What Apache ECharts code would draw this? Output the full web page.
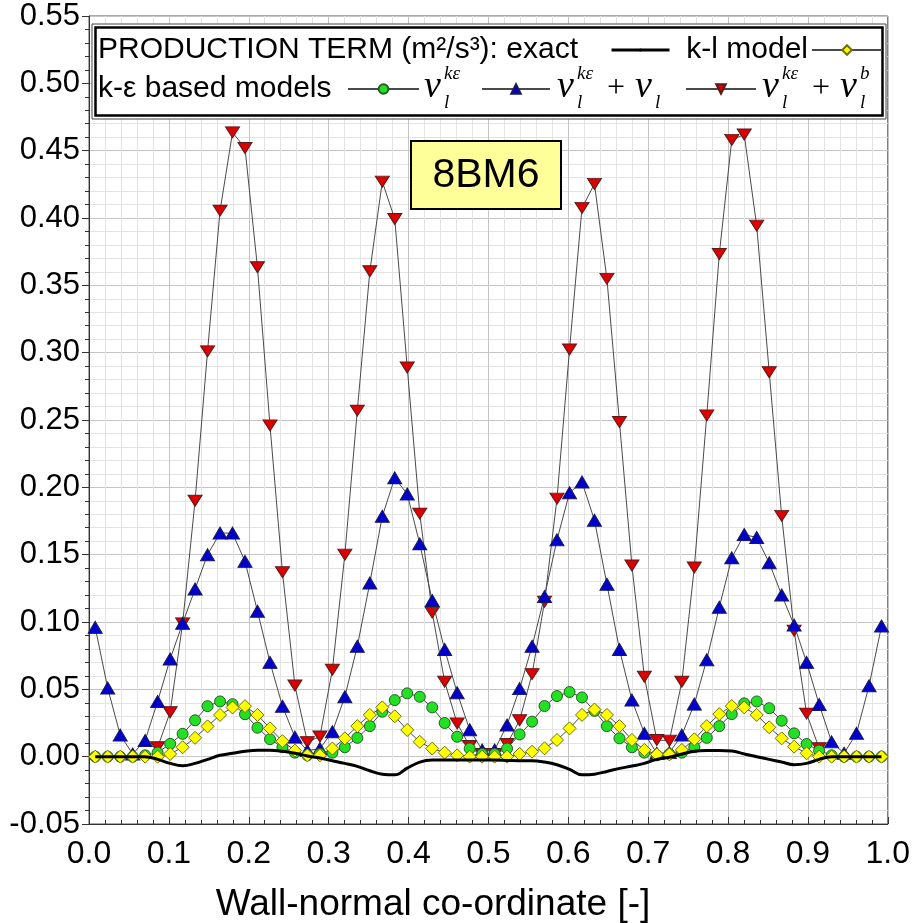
<!DOCTYPE html>
<html><head><meta charset="utf-8">
<script src="https://cdn.jsdelivr.net/npm/echarts@6/dist/echarts.min.js"></script>
<style>html,body{margin:0;padding:0;background:#fff}#c{width:913px;height:923px}</style>
</head><body><div id="c"></div>
<script>
// wall-normal positions of the sample points
const xPos = [0.0078,0.0234,0.0391,0.0547,0.0703,0.0859,0.1016,0.1172,0.1328,0.1484,
0.1641,0.1797,0.1953,0.2109,0.2266,0.2422,0.2578,0.2734,0.2891,0.3047,
0.3203,0.3359,0.3516,0.3672,0.3828,0.3984,0.4141,0.4297,0.4453,0.4609,
0.4766,0.4922,0.5078,0.5234,0.5391,0.5547,0.5703,0.5859,0.6016,0.6172,
0.6328,0.6484,0.6641,0.6797,0.6953,0.7109,0.7266,0.7422,0.7578,0.7734,
0.7891,0.8047,0.8203,0.8359,0.8516,0.8672,0.8828,0.8984,0.9141,0.9297,
0.9453,0.9609,0.9766,0.9922];

const exactVals = [0,0,0,0,0,-0.002,-0.005,-0.0067,-0.005,-0.002,
0.001,0.0025,0.004,0.0048,0.0048,0.004,0.0025,0.0005,-0.001,-0.003,
-0.005,-0.0072,-0.0105,-0.013,-0.0135,-0.0085,-0.004,-0.0025,-0.0025,-0.0025,
-0.0025,-0.0025,-0.0025,-0.0028,-0.003,-0.003,-0.004,-0.006,-0.0095,-0.0135,
-0.013,-0.011,-0.0087,-0.007,-0.005,-0.002,-0.0005,0.002,0.004,0.0045,
0.0045,0.0042,0.002,0,-0.002,-0.004,-0.006,-0.005,-0.002,0,
0,0,0,0];

const klVals = [0,0,0,0,0,0,0.002,0.007,0.014,0.0225,
0.031,0.0365,0.0375,0.031,0.021,0.0115,0.0045,0.001,0.001,0.006,
0.0136,0.0227,0.031,0.0366,0.030,0.0198,0.011,0.006,0.003,0.001,
0,0,0,0,0.002,0.0037,0.0062,0.0124,0.021,0.031,
0.035,0.031,0.0227,0.0124,0.005,0.0017,0.0017,0.005,0.0129,0.0227,
0.0316,0.0376,0.0366,0.031,0.0218,0.0136,0.0074,0.0025,0,0,
0,0,0,0];

const nuKeVals = [0,0,0,0,0.001,0.003,0.0095,0.017,0.027,0.0375,
0.041,0.039,0.0315,0.0215,0.013,0.007,0.003,0.001,0.002,0.003,
0.007,0.014,0.0227,0.0334,0.042,0.047,0.0445,0.0366,0.025,0.0148,
0.006,0.002,0.002,0.006,0.0165,0.026,0.0376,0.045,0.048,0.044,
0.034,0.0227,0.0136,0.007,0.003,0.001,0.002,0.003,0.007,0.014,
0.0227,0.0316,0.0396,0.041,0.036,0.0267,0.0173,0.0094,0.0045,0.001,
0,0,0,0];

const nuKeLVals = [0.096,0.051,0.016,0.002,0.012,0.041,0.0725,0.099,0.1245,0.15,
0.166,0.166,0.145,0.108,0.07,0.0375,0.0145,0.0045,0.006,0.0185,
0.0445,0.082,0.129,0.1785,0.207,0.195,0.158,0.116,0.0796,0.0475,
0.02,0.005,0.005,0.0235,0.0505,0.082,0.119,0.161,0.196,0.204,
0.1756,0.128,0.0796,0.042,0.0173,0.0025,0.003,0.016,0.039,0.072,
0.111,0.1476,0.165,0.1627,0.144,0.12,0.0977,0.07,0.0388,0.011,
0.0025,0.0173,0.0527,0.097];

const nuKeBVals = [null,null,null,null,null,0.007,0.033,0.099,0.19,0.301,
0.4055,0.4636,0.452,0.3634,0.246,0.137,0.0528,0.0108,0.015,0.0645,
0.15,0.257,0.3605,0.427,0.3993,0.289,0.1805,0.107,0.0556,0.0247,
0.0079,0.002,0.002,0.0094,0.027,0.0613,0.115,0.1916,0.3024,0.4075,
0.4253,0.3548,0.2485,0.142,0.0593,0.0124,0.0119,0.0556,0.1405,0.2534,
0.3733,0.458,0.462,0.3943,0.2855,0.1788,0.0935,0.032,0.0062,null,
null,null,null,null];

const xTickLabels = ['0.0','0.1','0.2','0.3','0.4','0.5','0.6','0.7','0.8','0.9','1.0'];

const pairs = v => xPos.map((x, i) => [x, v[i]]);
const SANS = '"Liberation Sans", Arial, sans-serif';
const NARROW = '"Liberation Sans Narrow", "Arial Narrow", "Liberation Sans", sans-serif';
const SERIF = '"Liberation Serif", "DejaVu Serif", serif';
const lineGrey = '#4a4a4a';

const chart = echarts.init(document.getElementById('c'), null, {renderer: 'canvas'});

function legendAt(name, left, top, w, h, extra) {
  return Object.assign({
    data: [name], left: left, top: top, itemWidth: w, itemHeight: h,
    padding: 0, formatter: function () { return ''; }, z: 10,
    textStyle: {fontSize: 1}
  }, extra || {});
}

function txt(t, x, y, size, opts) {
  opts = opts || {};
  return {
    type: 'text', z: 9, silent: true,
    style: {
      text: t, x: x, y: y, fill: '#000',
      fontSize: size, fontFamily: opts.family || SANS, fontStyle: opts.style || 'normal',
      textAlign: opts.align || 'left', textVerticalAlign: 'middle',
      align: opts.align || 'left', verticalAlign: 'middle'
    }
  };
}

const r1 = 50, r2 = 89;
const NU = 38, SM = 19;
function nuLabel(x0, withPlus, second) {
  const it = {family: SERIF, style: 'italic'};
  const out = [
    txt('ν', x0, r2 - 2, NU, it),
    txt('kε', x0 + 20, r2 - 15, SM, it),
    txt('l', x0 + 20, r2 + 14, SM, it)
  ];
  if (withPlus) {
    out.push(txt('+', x0 + 50, r2, 32, {family: SERIF}));
    out.push(txt('ν', x0 + 78, r2 - 2, NU, it));
    out.push(txt('l', x0 + 98, r2 + 14, SM, it));
    if (second) out.push(txt('b', x0 + 98, r2 - 15, SM, it));
  }
  return out;
}

const option = {
  animation: false,
  backgroundColor: '#fff',
  grid: {left: 89, right: 21, top: 16, bottom: 99, show: true, borderColor: '#555', borderWidth: 1},
  xAxis: {
    type: 'value', min: 0, max: 1, interval: 0.1,
    axisLine: {show: true, onZero: false, lineStyle: {color: '#333', width: 1}},
    axisTick: {show: true, inside: true, length: 7, lineStyle: {color: '#333'}},
    minorTick: {show: true, splitNumber: 5, length: 4, lineStyle: {color: '#333'}},
    splitLine: {show: true, lineStyle: {color: '#c4c4c4', width: 1}},
    minorSplitLine: {show: true, lineStyle: {color: '#e4e4e4', width: 1}},
    axisLabel: {
      color: '#000', fontFamily: NARROW, fontSize: 32, margin: 14,
      formatter: v => xTickLabels[Math.round(v * 10)]
    }
  },
  yAxis: {
    type: 'value', min: -0.05, max: 0.55, interval: 0.05,
    axisLine: {show: true, onZero: false, lineStyle: {color: '#333', width: 1}},
    axisTick: {show: true, inside: false, length: 7, lineStyle: {color: '#333'}},
    minorTick: {show: true, splitNumber: 5, length: 4, lineStyle: {color: '#333'}},
    splitLine: {show: true, lineStyle: {color: '#c4c4c4', width: 1}},
    minorSplitLine: {show: true, lineStyle: {color: '#e4e4e4', width: 1}},
    axisLabel: {
      color: '#000', fontFamily: SANS, fontSize: 31, margin: 9,
      formatter: v => v.toFixed(2)
    }
  },
  legend: [
    legendAt('exact', 610, r1 - 2, 58, 4, {lineStyle: {width: 3, color: '#000'}}),
    legendAt('k-l model', 811, r1 - 6, 70, 12),
    legendAt('nu_ke', 347, r2 - 6, 71, 12),
    legendAt('nu_ke_l', 481, r2 - 6, 68, 12),
    legendAt('nu_ke_b', 685, r2 - 6, 70, 12)
  ],
  graphic: [
    {type: 'rect', z: 8, silent: true, shape: {x: 92, y: 24, width: 794, height: 95},
     style: {fill: '#fff', stroke: '#444', lineWidth: 1}},
    {type: 'rect', z: 8, silent: true, shape: {x: 95.5, y: 27.5, width: 787, height: 88},
     style: {fill: 'none', stroke: '#000', lineWidth: 2.5}},
    txt('PRODUCTION TERM (m²/s³): exact', 98, r1, 30),
    txt('k-l model', 808, r1, 30, {align: 'right'}),
    txt('k-ε based models', 98, r2, 30),
    ...nuLabel(424, false, false),
    ...nuLabel(557, true, false),
    ...nuLabel(762, true, true),
    {type: 'rect', z: 8, silent: true, shape: {x: 411, y: 141, width: 150, height: 68},
     style: {fill: '#ffff99', stroke: '#000', lineWidth: 2}},
    txt('8BM6', 486, 176, 41, {align: 'center'}),
    txt('Wall-normal co-ordinate [-]', 433, 905, 37, {align: 'center'})
  ],
  series: [
    {name: 'exact', type: 'line', data: pairs(exactVals), smooth: 0.4, symbol: 'none', z: 7,
     lineStyle: {color: '#000', width: 3}, itemStyle: {color: '#000'}},
    {name: 'k-l model', type: 'line', data: pairs(klVals), z: 6,
     symbol: 'diamond', symbolSize: 13,
     lineStyle: {color: lineGrey, width: 1},
     itemStyle: {color: '#ffff00', borderColor: '#707000', borderWidth: 1}},
    {name: 'nu_ke', type: 'line', data: pairs(nuKeVals), z: 5,
     symbol: 'circle', symbolSize: 11,
     lineStyle: {color: lineGrey, width: 1},
     itemStyle: {color: '#22e022', borderColor: '#2a5a2a', borderWidth: 1}},
    {name: 'nu_ke_l', type: 'line', data: pairs(nuKeLVals), z: 4,
     symbol: 'triangle', symbolSize: [14, 12],
     lineStyle: {color: lineGrey, width: 1},
     itemStyle: {color: '#0000cc', borderColor: '#1a1a5a', borderWidth: 1}},
    {name: 'nu_ke_b', type: 'line', data: pairs(nuKeBVals), z: 3,
     symbol: 'triangle', symbolRotate: 180, symbolSize: [14, 11],
     lineStyle: {color: lineGrey, width: 1},
     itemStyle: {color: '#dd0000', borderColor: '#5a1a1a', borderWidth: 1}}
  ]
};
chart.setOption(option);
</script></body></html>
